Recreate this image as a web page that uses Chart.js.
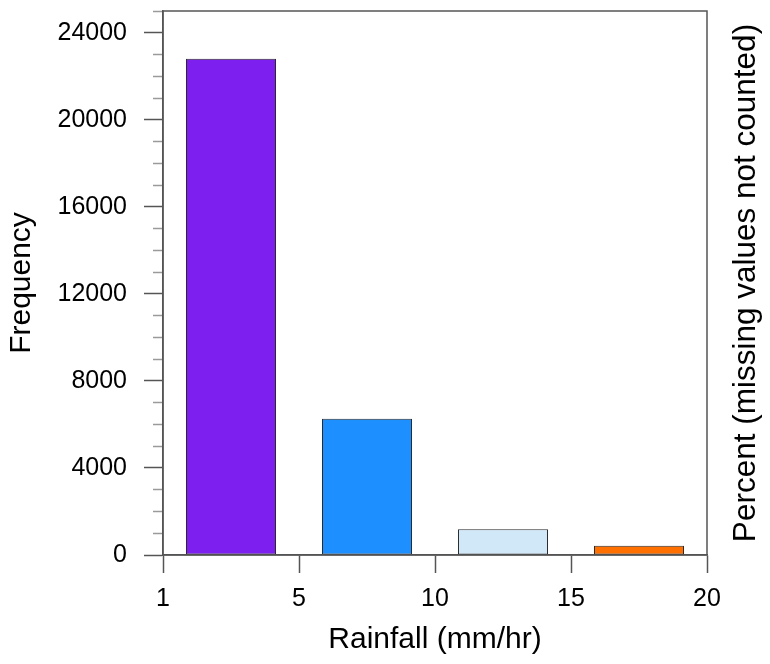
<!DOCTYPE html>
<html>
<head>
<meta charset="utf-8">
<title>Rainfall histogram</title>
<script src="https://cdn.jsdelivr.net/npm/chart.js@4/dist/chart.umd.min.js"></script>
<style>
  html, body { margin: 0; padding: 0; background: #ffffff; }
  #wrap { width: 770px; height: 664px; position: relative; }
</style>
</head>
<body>
<div id="wrap"><canvas id="chart" width="770" height="664"></canvas></div>
<script>
// Rainfall-rate bins (mm/hr), bin edges used as x tick labels
const binLabels = ['1-5', '5-10', '10-15', '15-20'];
const binEdges = ['1', '5', '10', '15', '20'];
// Number of observations per bin
const frequency = [22800, 6260, 1180, 430];
const binColors = ['#7d1fee', '#1e8fff', '#d0e8f8', '#ff7000'];

const FONT = '"Liberation Sans", Arial, Helvetica, sans-serif';
const AXIS_COLOR = '#555555';

// frame around the plot area plus the right-hand axis title
const framePlugin = {
  id: 'frame',
  afterDraw(chart) {
    const { ctx, chartArea: a } = chart;
    ctx.save();
    ctx.strokeStyle = AXIS_COLOR;
    ctx.lineWidth = 1.5;
    ctx.strokeRect(a.left, a.top, a.right - a.left, a.bottom - a.top);
    ctx.translate(746.5, (a.top + a.bottom) / 2);
    ctx.rotate(-Math.PI / 2);
    ctx.fillStyle = '#000000';
    ctx.font = '31.5px ' + FONT;
    ctx.textAlign = 'center';
    ctx.textBaseline = 'middle';
    ctx.fillText('Percent (missing values not counted)', 0, 0);
    ctx.restore();
  }
};

// fixed axis box sizes, without the extra room reserved for end labels
function fixBox(scale, w, h) {
  if (w !== null) scale.width = w;
  if (h !== null) scale.height = h;
  scale.paddingTop = 0;
  scale.paddingBottom = 0;
  scale.paddingLeft = 0;
  scale.paddingRight = 0;
}

new Chart(document.getElementById('chart'), {
  type: 'bar',
  data: {
    labels: binLabels,
    datasets: [{
      data: frequency.map((v, i) => ({ x: i + 0.5, y: v })),
      backgroundColor: binColors,
      borderColor: '#2a2a2a',
      borderWidth: 1,
      borderSkipped: false,
      barPercentage: 0.662,
      categoryPercentage: 1.0
    }]
  },
  options: {
    responsive: false,
    animation: false,
    events: [],
    layout: { padding: { left: 0, right: 63, top: 11, bottom: 0 } },
    plugins: { legend: { display: false }, tooltip: { enabled: false } },
    scales: {
      x: {
        type: 'linear',
        min: 0,
        max: 4,
        offset: false,
        afterFit(scale) { fixBox(scale, null, 109); },
        grid: {
          offset: false,
          drawOnChartArea: false,
          drawTicks: true,
          tickLength: 18,
          tickColor: AXIS_COLOR,
          tickWidth: 1.5
        },
        border: { display: true, color: AXIS_COLOR, width: 1.5 },
        ticks: {
          stepSize: 1,
          autoSkip: false,
          maxRotation: 0,
          padding: 11,
          color: '#000000',
          font: { family: FONT, size: 25 },
          callback: (v) => binEdges[v] !== undefined ? binEdges[v] : ''
        },
        title: {
          display: true,
          text: 'Rainfall (mm/hr)',
          color: '#000000',
          font: { family: FONT, size: 30 },
          padding: { top: 0, bottom: 6 }
        }
      },
      y: {
        type: 'linear',
        min: 0,
        max: 25000,
        afterFit(scale) { fixBox(scale, 163, null); },
        grid: {
          drawOnChartArea: false,
          drawTicks: true,
          tickLength: 19,
          tickWidth: 1.5,
          tickColor: (c) => (c.tick && c.tick.value % 4000 === 0) ? AXIS_COLOR : '#9a9a9a',
          // minor ticks: only the inner 10px of the tick are drawn
          tickBorderDash: (c) => (c.tick && c.tick.value % 4000 === 0) ? [] : [0, 9, 10, 100]
        },
        border: { display: true, color: AXIS_COLOR, width: 1.5 },
        ticks: {
          stepSize: 1000,
          autoSkip: false,
          padding: 17,
          color: '#000000',
          font: { family: FONT, size: 25 },
          callback: (v) => v % 4000 === 0 ? String(v) : ''
        },
        title: {
          display: true,
          text: 'Frequency',
          color: '#000000',
          font: { family: FONT, size: 30 },
          padding: { top: 4, bottom: 0 }
        }
      }
    }
  },
  plugins: [framePlugin]
});
</script>
</body>
</html>
